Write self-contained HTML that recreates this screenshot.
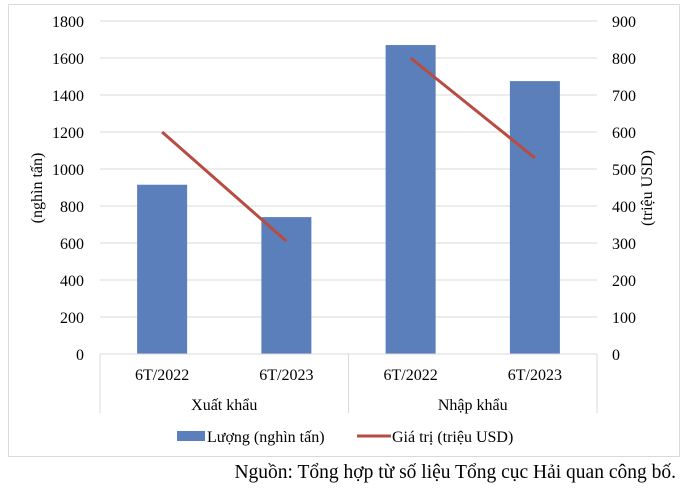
<!DOCTYPE html>
<html><head><meta charset="utf-8"><style>
body{margin:0;background:#fff;width:690px;height:493px;overflow:hidden}
text{font-family:"Liberation Serif",serif;fill:#000}
</style></head><body>
<svg id="c" width="690" height="493" xmlns="http://www.w3.org/2000/svg">
<rect x="8.5" y="4.5" width="671" height="452" fill="#fff" stroke="#d9d9d9"/>
<g id="g"></g>
<text x="676" y="478" font-size="19.5" text-anchor="end">Nguồn: Tổng hợp từ số liệu Tổng cục Hải quan công bố.</text>
</svg>
<script>
const categories=["6T/2022","6T/2023","6T/2022","6T/2023"];
const groups=["Xuất khẩu","Nhập khẩu"];
const volume=[915,740,1670,1475];
const value=[600,305,800,530];
const leftTicks=[0,200,400,600,800,1000,1200,1400,1600,1800];
const rightTicks=[0,100,200,300,400,500,600,700,800,900];
const NS="http://www.w3.org/2000/svg";
const g=document.getElementById('g');
const L=100,R=597,T=21,B=354;
const yL=v=>B-(v/1800)*(B-T);
const yR=v=>B-(v/900)*(B-T);
const bw=(R-L)/categories.length;
const xc=i=>L+bw*(i+0.5);
function el(t,a,txt){const e=document.createElementNS(NS,t);for(const k in a)e.setAttribute(k,a[k]);if(txt!==undefined)e.textContent=txt;g.appendChild(e);return e;}
leftTicks.forEach((v,i)=>{
 if(v>0){const l=el('line',{x1:L,x2:R,y1:yL(v),y2:yL(v),stroke:'#d9d9d9'});
 
 }
 const t=el('text',{x:84,y:yL(v)+6,'font-size':16,'text-anchor':'end'},v);
 
 
});
rightTicks.forEach(v=>{
 const t=el('text',{x:612,y:yR(v)+6,'font-size':16},v);
 
 
});
volume.forEach((v,i)=>{
 const r=el('rect',{x:xc(i)-25,y:yL(v),width:50,height:B-yL(v),fill:'#5a7fbb'});
 
 
});
const ax=el('line',{x1:L,x2:R,y1:B,y2:B,stroke:'#d9d9d9'});


[L,(L+R)/2,R].forEach(x=>{const l=el('line',{x1:x,x2:x,y1:B,y2:413,stroke:'#d9d9d9'});
 
 });
categories.forEach((c,i)=>{
 const t=el('text',{x:xc(i),y:380,'font-size':16,'text-anchor':'middle'},c);
 
 
});
groups.forEach((c,i)=>{
 const t=el('text',{x:L+(R-L)/4*(2*i+1),y:410,'font-size':16,'text-anchor':'middle'},c);
 
 
});
[[0,1],[2,3]].forEach(p=>{
 const l=el('line',{x1:xc(p[0]),y1:yR(value[p[0]]),x2:xc(p[1]),y2:yR(value[p[1]]),stroke:'#b84c42','stroke-width':3});
 
 
});
const yt=el('text',{transform:'translate(42,188) rotate(-90)','font-size':16,'text-anchor':'middle'},'(nghìn tấn)');


const yt2=el('text',{transform:'translate(652,188) rotate(-90)','font-size':16,'text-anchor':'middle'},'(triệu USD)');


const lb=el('rect',{x:177,y:431,width:28,height:10,fill:'#5a7fbb'});


const lt=el('text',{x:207,y:442,'font-size':16},'Lượng (nghìn tấn)');


const ll=el('line',{x1:357,x2:391,y1:436,y2:436,stroke:'#b84c42','stroke-width':3});


const lt2=el('text',{x:392,y:442,'font-size':16},'Giá trị (triệu USD)');


</script>
</body></html>
